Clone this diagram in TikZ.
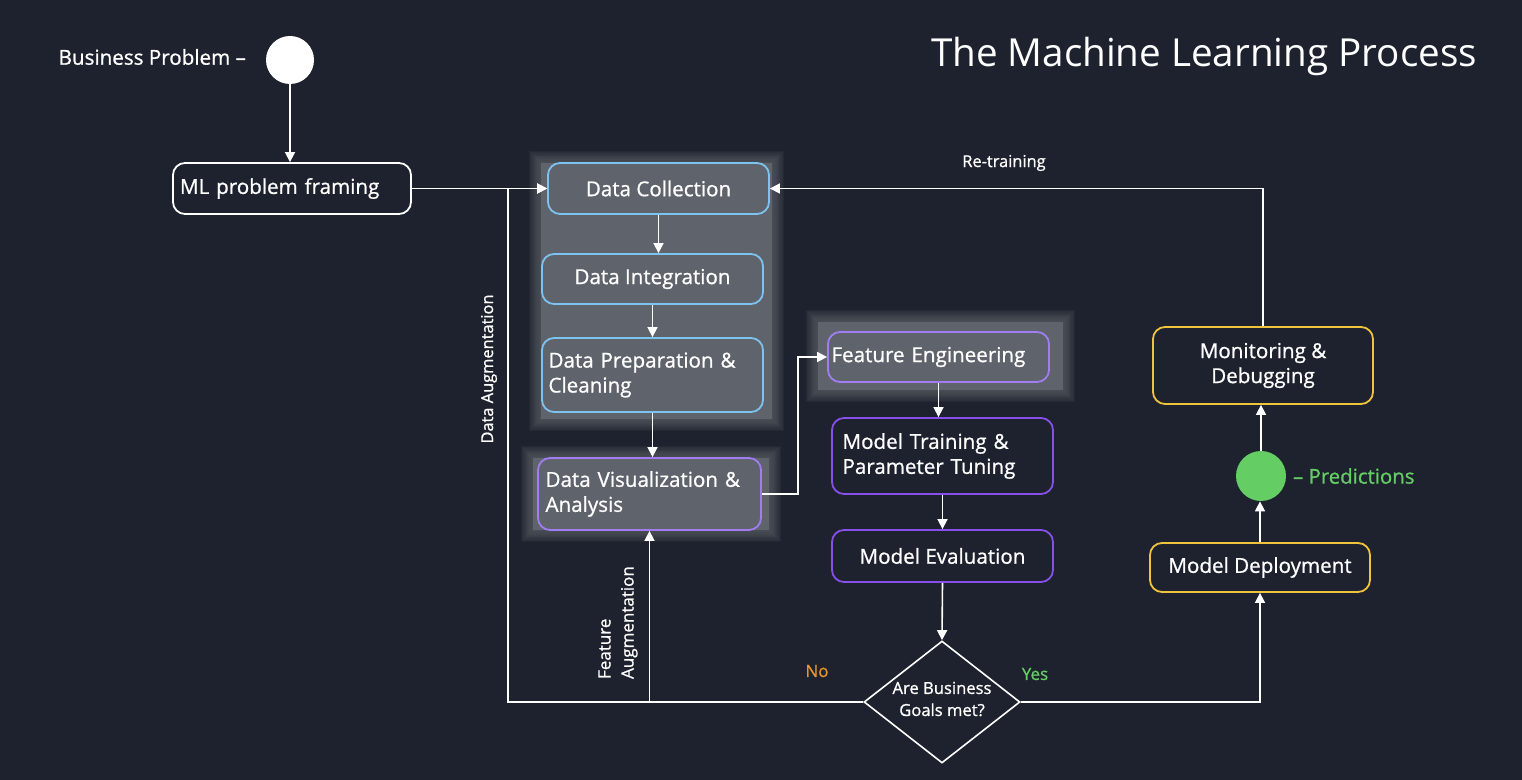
\documentclass[tikz,border=0pt]{standalone}
\usepackage{fontspec}
\setmainfont{Open Sans}[BoldFont={Open Sans}, BoldFeatures={FakeBold=0.9}]
\usepackage{tikz}
\usetikzlibrary{shapes.geometric,arrows.meta}
\definecolor{bg}{RGB}{30,34,46}
\definecolor{panel}{RGB}{95,99,107}
\definecolor{datablue}{RGB}{125,195,240}
\definecolor{featpurple}{RGB}{160,125,240}
\definecolor{modelpurple}{RGB}{135,80,235}
\definecolor{deployyellow}{RGB}{240,195,60}
\definecolor{predgreen}{RGB}{100,205,100}
\definecolor{noorange}{RGB}{230,150,40}
\newcommand{\glowrect}[4]{
    \fill[panel] (#1+6,#2+6) rectangle (#3-6,#4-6);
    \foreach \g in {1,...,10}{
      \fill[panel,opacity=0.11] (#1+6-1.2*\g,#2+6-1.2*\g) rectangle (#3-6+1.2*\g,#4-6+1.2*\g);
    }
}
\tikzset{
  stage/.style={draw, rounded corners=6pt, line width=0.9pt, text=white, inner sep=0pt,
    font=\fontsize{10.3}{12.5}\selectfont\bfseries, align=center},
  datastage/.style={stage, draw=datablue, fill=panel},
  featstage/.style={stage, draw=featpurple, fill=panel},
  modelstage/.style={stage, draw=modelpurple, fill=bg},
  opsstage/.style={stage, draw=deployyellow, fill=bg},
  arr/.style={draw=white, line width=0.8pt, -{Triangle[length=5pt,width=5pt]}},
  sidelabel/.style={text=white, font=\fontsize{8.2}{9.5}\selectfont\bfseries},
}

\begin{document}
\begin{tikzpicture}[x=0.5pt,y=-0.5pt]
\fill[bg] (0,0) rectangle (1522,780);
\useasboundingbox (0,0) rectangle (1522,780);
% soft panels behind the data stages
\glowrect{535}{157}{778}{425}
\glowrect{527}{452}{775}{536}
\glowrect{812}{316}{1069}{396}
% title and start
\node[anchor=east, text=white, font=\fontsize{19.3}{22}\selectfont] (title) at (1484,56) {The Machine Learning Process};
\node[circle, fill=white, minimum size=24pt, inner sep=0pt] (start) at (290,60) {};
\node[anchor=east, text=white, font=\fontsize{10.3}{12}\selectfont\bfseries] (startlabel) at (253,57) {Business Problem --};
% stages
\node[stage, draw=white, fill=bg, minimum width=119pt, minimum height=25.5pt, text width=112pt, align=left] (frame) at (292,188.5) {ML problem framing};
\node[datastage, minimum width=110.5pt, minimum height=25.5pt] (collect) at (658.5,188.5) {Data Collection};
\node[datastage, minimum width=110.5pt, minimum height=25pt] (integ) at (652.5,279) {Data Integration};
\node[datastage, minimum width=110.5pt, minimum height=37pt, text width=104pt, align=left] (prep) at (652.5,375) {Data Preparation \&\\Cleaning};
\node[featstage, minimum width=111.5pt, minimum height=36pt, text width=104pt, align=left] (viz) at (649.5,494) {Data Visualization \&\\Analysis};
\node[featstage, minimum width=110.5pt, minimum height=25pt, text width=107pt, align=left] (feat) at (938.5,357) {Feature Engineering};
\node[modelstage, minimum width=110.5pt, minimum height=38pt, text width=100pt, align=left] (train) at (942.5,456) {Model Training \&\\Parameter Tuning};
\node[modelstage, minimum width=110.5pt, minimum height=26pt] (eval) at (942.5,556) {Model Evaluation};
\node[diamond, draw=white, line width=0.8pt, minimum width=78pt, minimum height=61pt, inner sep=0pt] (goals) at (942,702) {};
\node[text=white, align=center, font=\fontsize{8.3}{11}\selectfont\bfseries] (goalstext) at (942,699) {Are Business\\Goals met?};
\node[opsstage, minimum width=110pt, minimum height=24.5pt] (deploy) at (1260,567.5) {Model Deployment};
\node[circle, fill=predgreen, minimum size=25pt, inner sep=0pt] (pred) at (1261,476) {};
\node[anchor=west, text=predgreen, font=\fontsize{10.2}{12}\selectfont\bfseries] (predlabel) at (1286,476) {-- Predictions};
\node[opsstage, minimum width=110pt, minimum height=38.5pt] (monitor) at (1263,365.5) {Monitoring \&\\Debugging};
% connectors
\coordinate (augcorner) at (508,702);
\coordinate (augtop) at (508,188.5);
\draw[arr] (start.south) -- (start.south |- frame.north);
\draw[arr] (frame.east) -- (collect.west);
\draw[arr] (collect.south) -- (collect.south |- integ.north);
\draw[arr] (integ.south) -- (prep.north);
\draw[arr] (prep.south) -- (prep.south |- viz.north);
\draw[arr] (viz.east) -- ++(36,0) |- (feat.west);
\draw[arr] (feat.south) -- (feat.south |- train.north);
\draw[arr] (train.south) -- (eval.north);
\draw[arr] (eval.south) -- (goals.north);
\draw[arr] (goals.west) -- (augcorner) -- (augtop) -- (collect.west);
\draw[arr] (viz.south |- goals.west) -- (viz.south);
\draw[arr] (goals.east) -| (deploy.south);
\draw[arr] (deploy.north) -- (deploy.north |- pred.south);
\draw[arr] (pred.north) -- (pred.north |- monitor.south);
\draw[arr] (monitor.north) |- (collect.east);
% labels on connectors
\node[sidelabel] (retrain) at (1004,163) {Re-training};
\node[sidelabel, rotate=90] (dataaug) at (489,369) {Data Augmentation};
\node[sidelabel, rotate=90, anchor=west, align=left, font=\fontsize{8.5}{11.5}\selectfont\bfseries] (feataug) at (618,686) {Feature\\Augmentation};
\node[text=noorange, font=\fontsize{8.5}{10}\selectfont\bfseries] (nolabel) at (817,671) {No};
\node[text=predgreen, font=\fontsize{8.5}{10}\selectfont\bfseries] (yeslabel) at (1035,674) {Yes};
\end{tikzpicture}
\end{document}
